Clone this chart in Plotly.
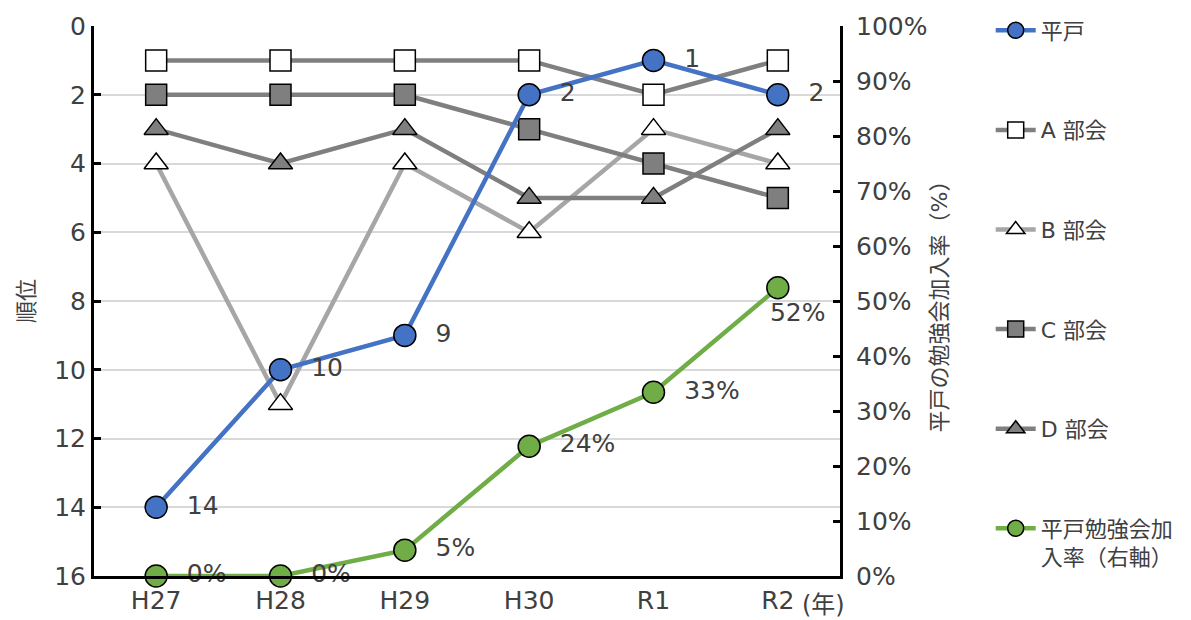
import plotly.graph_objects as go

years = ["H27", "H28", "H29", "H30", "R1", "R2"]
hirado = [14, 10, 9, 2, 1, 2]
bukai_a = [1, 1, 1, 1, 2, 1]
bukai_b = [4, 11, 4, 6, 3, 4]
bukai_c = [2, 2, 2, 3, 4, 5]
bukai_d = [3, 4, 3, 5, 5, 3]
join_rate = [0.0, 0.0, 0.047, 0.236, 0.334, 0.524]

FONT = "DejaVu Sans, Noto Sans CJK JP"
TXT = "#404040"
xs = list(range(len(years)))

fig = go.Figure()

def gray_series(name, vals, line_color, fill, symbol, rank):
    fig.add_trace(go.Scatter(
        x=xs, y=vals, name=name, mode="lines+markers",
        line=dict(color=line_color, width=4.5),
        marker=dict(symbol=symbol, size=21, color=fill, line=dict(color="#000000", width=1.5)),
        legendgroup=name, legendrank=rank, yaxis="y",
    ))

gray_series("A 部会", bukai_a, "#808080", "#FFFFFF", "square", 2)
gray_series("B 部会", bukai_b, "#A6A6A6", "#FFFFFF", "triangle-up", 3)
gray_series("C 部会", bukai_c, "#7F7F7F", "#7F7F7F", "square", 4)
gray_series("D 部会", bukai_d, "#7F7F7F", "#7F7F7F", "triangle-up", 5)

fig.add_trace(go.Scatter(
    x=xs, y=hirado, name="平戸", mode="lines+markers+text",
    line=dict(color="#4472C4", width=4.5),
    marker=dict(symbol="circle", size=22, color="#4472C4", line=dict(color="#000000", width=1.5)),
    text=["  " + str(v) for v in hirado], textposition="middle right",
    textfont=dict(size=25, color=TXT, family=FONT),
    legendgroup="平戸", legendrank=1, yaxis="y",
))

fig.add_trace(go.Scatter(
    x=xs, y=join_rate, name="平戸勉強会加<br>入率（右軸）", mode="lines+markers+text",
    line=dict(color="#70AD47", width=4.5),
    marker=dict(symbol="circle", size=22, color="#70AD47", line=dict(color="#000000", width=1.5)),
    text=["  " + f"{round(v*100)}%" for v in join_rate[:5]] + ["     " + f"{round(join_rate[5]*100)}%"],
    textposition=["middle right"] * 5 + ["bottom center"],
    textfont=dict(size=25, color=TXT, family=FONT),
    legendgroup="rate", legendrank=6, yaxis="y2", cliponaxis=False,
))

fig.update_layout(
    width=1191, height=620,
    margin=dict(l=86, r=359, t=18, b=52, autoexpand=False),
    paper_bgcolor="white", plot_bgcolor="white",
    font=dict(family=FONT, size=25, color=TXT),
    xaxis=dict(
        tickvals=xs, ticktext=years, range=[-0.5, 5.5],
        showline=True, linecolor="#000000", linewidth=3,
        showgrid=False, ticks="", zeroline=False, automargin=False,
        tickfont=dict(size=25, color=TXT),
    ),
    yaxis=dict(
        range=[16, 0], dtick=2, tick0=0,
        showline=True, linecolor="#000000", linewidth=3,
        ticks="inside", ticklen=7, tickwidth=3, tickcolor="#000000",
        showgrid=True, gridcolor="#D9D9D9", gridwidth=1.5, zeroline=False,
        automargin=False,
        title=dict(text="順位", font=dict(size=22, color=TXT), standoff=14),
        tickfont=dict(size=25, color=TXT),
    ),
    yaxis2=dict(
        overlaying="y", side="right", range=[0, 1], dtick=0.1, tickformat=".0%",
        showline=True, linecolor="#000000", linewidth=3,
        ticks="inside", ticklen=7, tickwidth=3, tickcolor="#000000",
        showgrid=False, zeroline=False, automargin=False, ticklabelstandoff=8,
        title=dict(text="平戸の勉強会加入率（%）", font=dict(size=22, color=TXT), standoff=6),
        tickfont=dict(size=25, color=TXT),
    ),
    legend=dict(
        x=1.202, y=1.03, xanchor="left", yanchor="top",
        tracegroupgap=68, font=dict(size=22, color=TXT), valign="top",
        bgcolor="rgba(0,0,0,0)", itemwidth=40, maxheight=1.0,
    ),
    showlegend=True,
)

fig.add_annotation(
    x=5, y=0, xref="x", yref="paper", text="(年)", showarrow=False,
    xshift=46, yshift=-29, font=dict(size=24, color=TXT), yanchor="middle",
)

fig.write_html("out.html")
